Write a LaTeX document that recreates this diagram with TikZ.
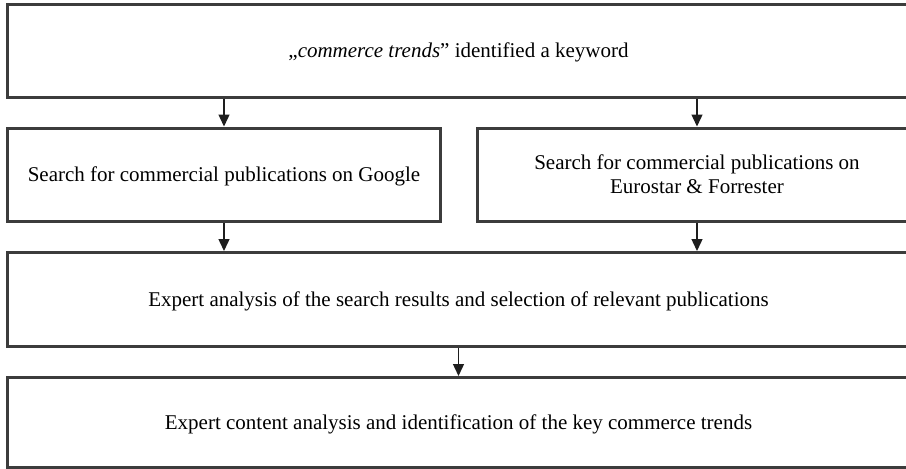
\documentclass[tikz,border=0pt]{standalone}
\usepackage{fontspec}
\setmainfont{Liberation Serif}
\usetikzlibrary{arrows.meta}
\definecolor{boxline}{HTML}{3C3C3C}
\definecolor{arrline}{HTML}{1E1E1E}
\tikzset{
  flowbox/.style={draw=boxline, line width=3pt, rectangle, inner sep=0pt,
    align=center, font=\fontsize{21}{24}\selectfont, text=black, text depth=0pt},
  arr/.style={draw=arrline, line width=1.4pt, -{Triangle[length=12pt,width=11pt]}}
}
\begin{document}
\begin{tikzpicture}[x=1pt,y=-1pt]
\useasboundingbox (0,0) rectangle (906,469);
\clip (0,0) rectangle (906,469);
\fill[white] (0,0) rectangle (906,469);
\node[flowbox, minimum width=903pt, minimum height=93pt] (top) at (458.5,50.5)
  {„\textit{commerce trends}” identified a keyword};
\node[flowbox, minimum width=433pt, minimum height=93pt] (left) at (224,174.5)
  {Search for commercial publications on Google};
\node[flowbox, minimum width=440pt, minimum height=93pt] (right) at (697,174.5)
  {Search for commercial publications on\\Eurostar \& Forrester};
\node[flowbox, minimum width=903pt, minimum height=94pt] (mid) at (458.5,299.5)
  {Expert analysis of the search results and selection of relevant publications};
\node[flowbox, minimum width=903pt, minimum height=90pt] (bot) at (458.5,422.5)
  {Expert content analysis and identification of the key commerce trends};
\draw[arr] (left.north |- top.south) -- (left.north);
\draw[arr] (right.north |- top.south) -- (right.north);
\draw[arr] (left.south) -- (left.south |- mid.north);
\draw[arr] (right.south) -- (right.south |- mid.north);
\draw[arr] (mid.south) -- (bot.north);
\end{tikzpicture}
\end{document}
